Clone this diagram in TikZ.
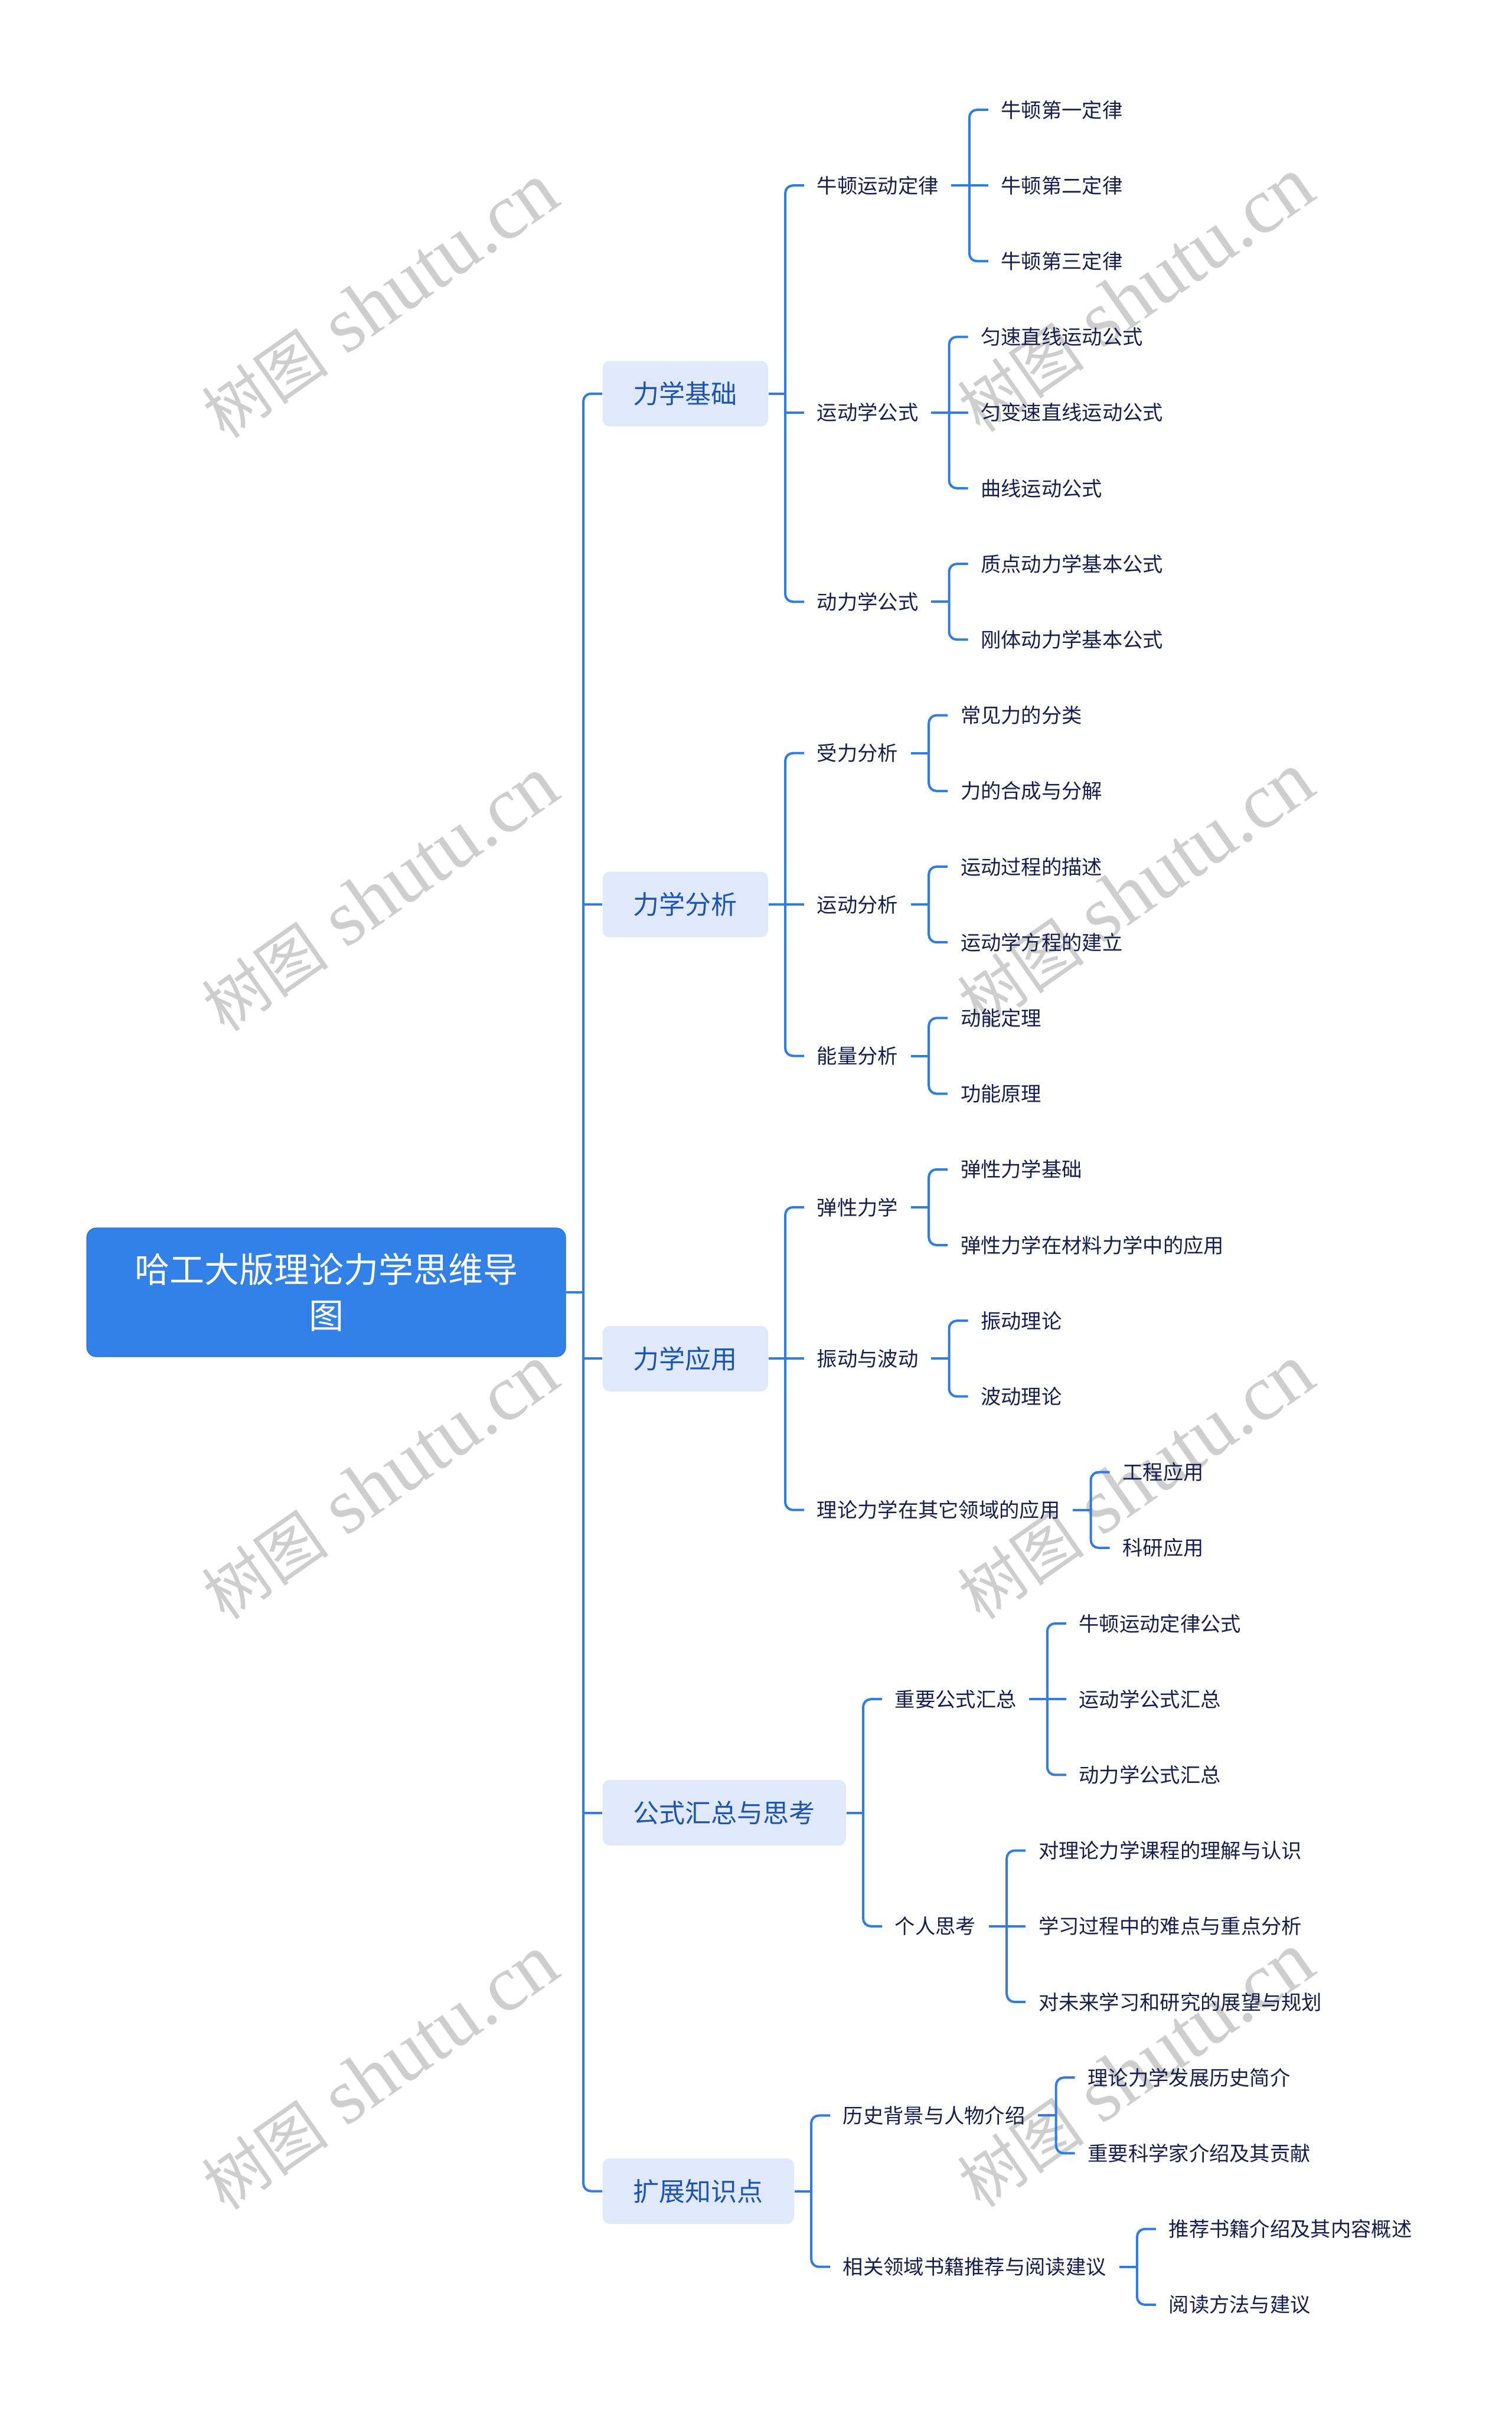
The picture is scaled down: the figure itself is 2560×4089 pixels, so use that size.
\documentclass[tikz,border=0pt]{standalone}
\usepackage{fontspec}
\setmainfont{Liberation Serif}
\newfontfamily\cjk{Noto Sans CJK SC}
\newfontfamily\wmfont{Liberation Serif}
\definecolor{connblue}{RGB}{47,125,226}
\definecolor{rootblue}{RGB}{50,129,233}
\definecolor{rootedge}{RGB}{40,112,215}
\definecolor{topicfill}{RGB}{224,233,251}
\definecolor{topictext}{RGB}{28,84,182}
\definecolor{leaftext}{RGB}{22,30,80}
\definecolor{wmgray}{RGB}{206,206,206}
\begin{document}
\begin{tikzpicture}[x=0.25pt,y=-0.25pt,
  conn/.style={draw=connblue,line width=1pt,rounded corners=3.25pt},
  rootnode/.style={fill=rootblue,draw=rootedge,line width=0.3pt,rounded corners=4pt,text=white,font=\cjk\fontsize{14.75pt}{19.5pt}\selectfont,align=center,minimum width=202.75pt,minimum height=54.5pt,inner sep=0pt},
  topic/.style={fill=topicfill,rounded corners=3pt,text=topictext,font=\cjk\fontsize{11pt}{13pt}\selectfont,minimum height=27.75pt,inner xsep=13pt,inner ysep=0pt,anchor=west},
  leaf/.style={text=leaftext,font=\cjk\fontsize{8.575pt}{10pt}\selectfont,inner xsep=5.25pt,inner ysep=1pt,anchor=west},
  wm/.style={text=wmgray,font=\wmfont\fontsize{33.5pt}{33.5pt}\selectfont,rotate=35,inner sep=0pt}
]
\fill[white] (0,0) rectangle (2560,4089);
\useasboundingbox (0,0) rectangle (2560,4089);

% watermarks
\newcommand\wmtext{{\cjk\fontsize{27pt}{27pt}\selectfont 树图} shutu.cn}
\node[wm] (w1) at (644,510) {\wmtext};
\node[wm] (w2) at (1924,500) {\wmtext};
\node[wm] (w3) at (644,1515) {\wmtext};
\node[wm] (w4) at (1924,1508) {\wmtext};
\node[wm] (w5) at (644,2511) {\wmtext};
\node[wm] (w6) at (1924,2511) {\wmtext};
\node[wm] (w7) at (644,3511) {\wmtext};
\node[wm] (w8) at (1924,3507) {\wmtext};

% root
\node[rootnode] (root) at (552.5,2189) {哈工大版理论力学思维导\\图};

% level 1
\node[topic] (t1) at (1020,666.75) {力学基础};
\node[topic] (t2) at (1020,1532.1) {力学分析};
\node[topic] (t3) at (1020,2301.3) {力学应用};
\node[topic] (t4) at (1020,3070.5) {\makebox[77pt][s]{公\hfil 式\hfil 汇\hfil 总\hfil 与\hfil 思\hfil 考}};
\node[topic] (t5) at (1020,3711.5) {扩展知识点};

% group 1
\node[leaf] (a1) at (1362,314.2) {牛顿运动定律};
\node[leaf] (a2) at (1362,698.8) {运动学公式};
\node[leaf] (a3) at (1362,1019.3) {动力学公式};
\node[leaf] (a11) at (1673.8,186) {牛顿第一定律};
\node[leaf] (a12) at (1673.8,314.2) {牛顿第二定律};
\node[leaf] (a13) at (1673.8,442.4) {牛顿第三定律};
\node[leaf] (a21) at (1639.5,570.6) {匀速直线运动公式};
\node[leaf] (a22) at (1639.5,698.8) {匀变速直线运动公式};
\node[leaf] (a23) at (1639.5,827) {曲线运动公式};
\node[leaf] (a31) at (1639.5,955.2) {质点动力学基本公式};
\node[leaf] (a32) at (1639.5,1083.4) {刚体动力学基本公式};

% group 2
\node[leaf] (b1) at (1362,1275.7) {受力分析};
\node[leaf] (b2) at (1362,1532.1) {运动分析};
\node[leaf] (b3) at (1362,1788.5) {能量分析};
\node[leaf] (b11) at (1605.2,1211.6) {常见力的分类};
\node[leaf] (b12) at (1605.2,1339.8) {力的合成与分解};
\node[leaf] (b21) at (1605.2,1468) {运动过程的描述};
\node[leaf] (b22) at (1605.2,1596.2) {运动学方程的建立};
\node[leaf] (b31) at (1605.2,1724.4) {动能定理};
\node[leaf] (b32) at (1605.2,1852.6) {功能原理};

% group 3
\node[leaf] (c1) at (1362,2044.9) {弹性力学};
\node[leaf] (c2) at (1362,2301.3) {振动与波动};
\node[leaf] (c3) at (1362,2557.7) {理论力学在其它领域的应用};
\node[leaf] (c11) at (1605.2,1980.8) {弹性力学基础};
\node[leaf] (c12) at (1605.2,2109) {弹性力学在材料力学中的应用};
\node[leaf] (c21) at (1639.5,2237.2) {振动理论};
\node[leaf] (c22) at (1639.5,2365.4) {波动理论};
\node[leaf] (c31) at (1879.6,2493.6) {工程应用};
\node[leaf] (c32) at (1879.6,2621.8) {科研应用};

% group 4
\node[leaf] (d1) at (1494,2878.2) {重要公式汇总};
\node[leaf] (d2) at (1494,3262.8) {个人思考};
\node[leaf] (d11) at (1805.8,2750) {牛顿运动定律公式};
\node[leaf] (d12) at (1805.8,2878.2) {运动学公式汇总};
\node[leaf] (d13) at (1805.8,3006.4) {动力学公式汇总};
\node[leaf] (d21) at (1737.2,3134.6) {对理论力学课程的理解与认识};
\node[leaf] (d22) at (1737.2,3262.8) {学习过程中的难点与重点分析};
\node[leaf] (d23) at (1737.2,3391) {对未来学习和研究的展望与规划};

% group 5
\node[leaf] (e1) at (1406,3583.3) {历史背景与人物介绍};
\node[leaf] (e2) at (1406,3839.7) {相关领域书籍推荐与阅读建议};
\node[leaf] (e11) at (1820.7,3519.2) {理论力学发展历史简介};
\node[leaf] (e12) at (1820.7,3647.4) {重要科学家介绍及其贡献};
\node[leaf] (e21) at (1957.9,3775.6) {推荐书籍介绍及其内容概述};
\node[leaf] (e22) at (1957.9,3903.8) {阅读方法与建议};

% connectors: root -> level 1
\draw[conn] (root.east) -- ++(30,0);
\draw[conn] (t1.west) -- ++(-32,0) |- (t5.west);
\foreach \n in {t2,t3,t4} \draw[conn] (\n.west) -- ++(-32,0);

% level 1 -> level 2
\foreach \n in {t1,t2,t3,t4,t5} \draw[conn] (\n.east) -- ++(30,0);
\draw[conn] (a1.west) -- ++(-32,0) |- (a3.west);
\draw[conn] (a2.west) -- ++(-32,0);
\draw[conn] (b1.west) -- ++(-32,0) |- (b3.west);
\draw[conn] (b2.west) -- ++(-32,0);
\draw[conn] (c1.west) -- ++(-32,0) |- (c3.west);
\draw[conn] (c2.west) -- ++(-32,0);
\draw[conn] (d1.west) -- ++(-32,0) |- (d2.west);
\draw[conn] (e1.west) -- ++(-32,0) |- (e2.west);

% level 2 -> level 3
\foreach \n in {a1,a2,a3,b1,b2,b3,c1,c2,c3,d1,d2,e1,e2} \draw[conn] (\n.east) -- ++(32,0);
\draw[conn] (a11.west) -- ++(-32,0) |- (a13.west);
\draw[conn] (a12.west) -- ++(-32,0);
\draw[conn] (a21.west) -- ++(-32,0) |- (a23.west);
\draw[conn] (a22.west) -- ++(-32,0);
\draw[conn] (a31.west) -- ++(-32,0) |- (a32.west);
\draw[conn] (b11.west) -- ++(-32,0) |- (b12.west);
\draw[conn] (b21.west) -- ++(-32,0) |- (b22.west);
\draw[conn] (b31.west) -- ++(-32,0) |- (b32.west);
\draw[conn] (c11.west) -- ++(-32,0) |- (c12.west);
\draw[conn] (c21.west) -- ++(-32,0) |- (c22.west);
\draw[conn] (c31.west) -- ++(-32,0) |- (c32.west);
\draw[conn] (d11.west) -- ++(-32,0) |- (d13.west);
\draw[conn] (d12.west) -- ++(-32,0);
\draw[conn] (d21.west) -- ++(-32,0) |- (d23.west);
\draw[conn] (d22.west) -- ++(-32,0);
\draw[conn] (e11.west) -- ++(-32,0) |- (e12.west);
\draw[conn] (e21.west) -- ++(-32,0) |- (e22.west);
\end{tikzpicture}
\end{document}
